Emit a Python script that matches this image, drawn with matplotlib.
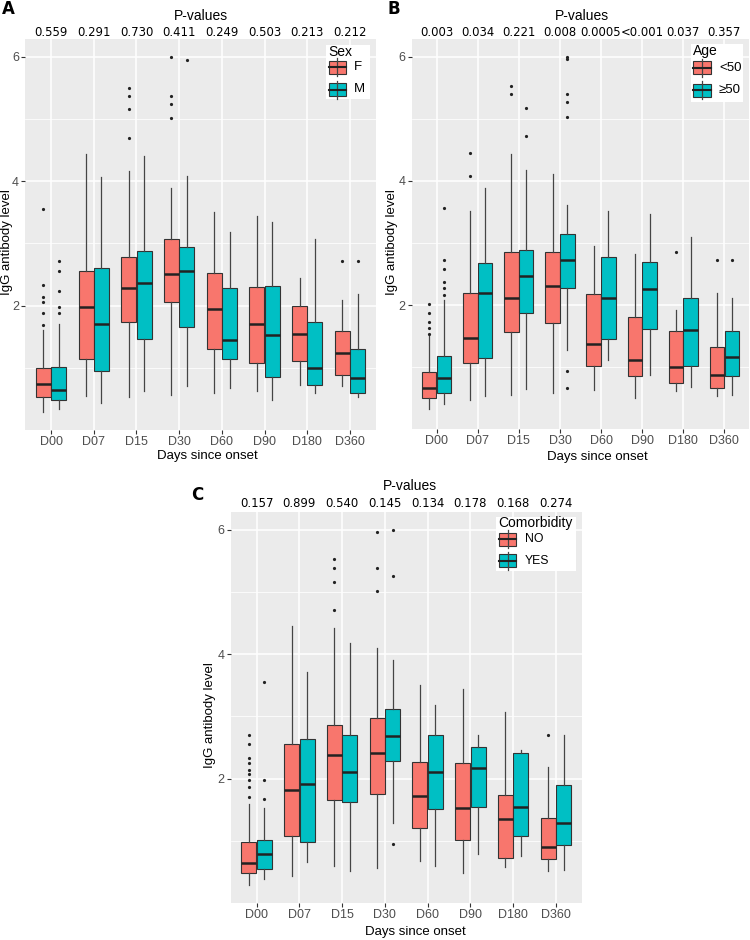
import matplotlib
matplotlib.use("Agg")
import matplotlib.pyplot as plt
from matplotlib.patches import Rectangle
from matplotlib.ticker import MultipleLocator

days = ["D00", "D07", "D15", "D30", "D60", "D90", "D180", "D360"]

# each row: (low whisker, q1, median, q3, high whisker)
# panel A - sex
pval_sex = ["0.559", "0.291", "0.730", "0.411", "0.249", "0.503", "0.213", "0.212"]
sex_f = [(0.29, 0.53, 0.74, 0.99, 1.61), (0.54, 1.14, 1.97, 2.55, 4.43),
         (0.53, 1.73, 2.29, 2.78, 4.16), (0.56, 2.05, 2.51, 3.07, 3.89),
         (0.60, 1.30, 1.95, 2.53, 3.50), (0.62, 1.08, 1.70, 2.30, 3.44),
         (0.72, 1.11, 1.55, 1.99, 2.45), (0.70, 0.88, 1.24, 1.59, 2.09)]
sex_f_out = [[3.55, 2.33, 2.14, 2.05, 1.88, 1.69], [], [5.50, 5.37, 5.16, 4.70],
             [5.99, 5.37, 5.24, 5.01], [], [], [], [2.71]]
sex_m = [(0.33, 0.49, 0.65, 1.01, 1.71), (0.44, 0.95, 1.71, 2.60, 4.06),
         (0.62, 1.46, 2.37, 2.87, 4.41), (0.70, 1.66, 2.55, 2.94, 4.09),
         (0.68, 1.14, 1.45, 2.29, 3.18), (0.49, 0.85, 1.53, 2.32, 3.34),
         (0.60, 0.72, 1.00, 1.74, 3.07), (0.53, 0.59, 0.83, 1.31, 2.18)]
sex_m_out = [[2.71, 2.56, 2.24, 1.98, 1.88], [], [], [5.95], [], [], [], [2.71]]

# panel B - age
pval_age = ["0.003", "0.034", "0.221", "0.008", "0.0005", "<0.001", "0.037", "0.357"]
age_lt = [(0.32, 0.51, 0.66, 0.92, 1.51), (0.47, 1.06, 1.47, 2.20, 3.52),
          (0.55, 1.57, 2.11, 2.85, 4.43), (0.59, 1.71, 2.31, 2.86, 4.11),
          (0.63, 1.02, 1.37, 2.17, 2.95), (0.51, 0.86, 1.11, 1.81, 2.82),
          (0.62, 0.74, 1.00, 1.58, 1.92), (0.54, 0.67, 0.88, 1.32, 2.20)]
age_lt_out = [[2.01, 1.87, 1.73, 1.63, 1.54], [4.45, 4.08], [5.53, 5.40], [], [], [],
              [2.85], [2.72]]
age_ge = [(0.41, 0.58, 0.82, 1.18, 2.08), (0.53, 1.14, 2.20, 2.67, 3.88),
          (0.64, 1.87, 2.47, 2.88, 4.18), (1.27, 2.28, 2.72, 3.15, 3.61),
          (1.12, 1.46, 2.11, 2.78, 3.52), (0.87, 1.62, 2.26, 2.69, 3.46),
          (0.68, 1.02, 1.60, 2.11, 3.09), (0.55, 0.86, 1.17, 1.58, 2.11)]
age_ge_out = [[3.57, 2.73, 2.58, 2.37, 2.28, 2.16], [], [5.18, 4.72],
              [6.00, 5.96, 5.39, 5.27, 5.03, 0.93, 0.67], [], [], [], [2.72]]

# panel C - comorbidity
pval_com = ["0.157", "0.899", "0.540", "0.145", "0.134", "0.178", "0.168", "0.274"]
com_no = [(0.29, 0.49, 0.65, 0.98, 1.60), (0.43, 1.08, 1.81, 2.55, 4.46),
          (0.60, 1.65, 2.38, 2.87, 4.43), (0.56, 1.75, 2.41, 2.98, 4.10),
          (0.68, 1.20, 1.72, 2.26, 3.50), (0.49, 1.02, 1.53, 2.25, 3.44),
          (0.58, 0.73, 1.35, 1.73, 3.07), (0.52, 0.71, 0.90, 1.36, 2.19)]
com_no_out = [[2.71, 2.56, 2.34, 2.25, 2.14, 2.08, 1.98, 1.87, 1.71], [],
              [5.53, 5.39, 5.17, 4.71], [5.97, 5.39, 5.02], [], [], [], [2.71]]
com_yes = [(0.38, 0.55, 0.79, 1.01, 1.53), (0.66, 0.98, 1.91, 2.63, 3.71),
           (0.52, 1.62, 2.11, 2.70, 4.19), (1.29, 2.29, 2.68, 3.12, 3.91),
           (0.60, 1.51, 2.11, 2.71, 3.18), (0.79, 1.54, 2.17, 2.51, 2.70),
           (0.76, 1.07, 1.54, 2.42, 2.46), (0.53, 0.94, 1.29, 1.89, 2.71)]
com_yes_out = [[3.56, 1.98, 1.68], [], [], [6.00, 5.26, 0.95], [], [], [], []]

RED = "#F8766D"
TEAL = "#00BFC4"
W, H = 750, 940
SANS = "Liberation Sans"
VERD = "DejaVu Sans"

fig = plt.figure(figsize=(W / 100, H / 100), dpi=100)


def make_stats(rows, outs):
    res = []
    for (lo, q1, med, q3, hi), fl in zip(rows, outs):
        res.append(dict(whislo=lo, q1=q1, med=med, q3=q3, whishi=hi, fliers=fl))
    return res


def panel(left, width, y0, unit, groups, pvals, pval_y):
    top = y0 - 6.29 * unit
    ax = fig.add_axes([left / W, 1 - y0 / H, width / W, (y0 - top) / H])
    ax.set_facecolor("#EBEBEB")
    for s in ax.spines.values():
        s.set_visible(False)
    ax.set_xlim(-0.6, 7.6)
    ax.set_ylim(0, 6.29)
    ax.yaxis.set_major_locator(MultipleLocator(2))
    ax.yaxis.set_minor_locator(MultipleLocator(1))
    ax.grid(which="major", color="white", lw=1.1)
    ax.grid(which="minor", axis="y", color="white", lw=0.55)
    ax.set_axisbelow(True)
    ax.tick_params(which="minor", length=0)
    ax.tick_params(which="major", length=3, width=0.8, color="#333333",
                   labelcolor="#4D4D4D", labelsize=9, pad=1.5)
    pos = list(range(len(days)))
    for k, (rows, outs, col) in enumerate(groups):
        off = -0.18 if k == 0 else 0.18
        ax.bxp(make_stats(rows, outs), positions=[p + off for p in pos],
               widths=0.35, patch_artist=True, showcaps=False,
               boxprops=dict(facecolor=col, edgecolor="#333333", lw=0.8),
               whiskerprops=dict(color="#444444", lw=0.9),
               medianprops=dict(color="#222222", lw=1.8),
               flierprops=dict(marker="o", markersize=2.3, markerfacecolor="#222222",
                               markeredgecolor="none"))
    ax.set_xticks(pos)
    ax.set_xticklabels(days, fontfamily=SANS)
    ax.set_yticks([2, 4, 6])
    ax.set_yticklabels(["2", "4", "6"], fontfamily=SANS)
    ax.set_xlim(-0.6, 7.6)
    for i, p in enumerate(pvals):
        ax.text(i, 1 + (top - pval_y) / (y0 - top), p, transform=ax.get_xaxis_transform(),
                ha="center", va="center", fontsize=8.4, family=VERD, color="black")
    return ax


panel(25.4, 350.2, 430, 62.2,
      [(sex_f, sex_f_out, RED), (sex_m, sex_m_out, TEAL)], pval_sex, 33)
panel(412, 337, 429.2, 62.1,
      [(age_lt, age_lt_out, RED), (age_ge, age_ge_out, TEAL)], pval_age, 33)
panel(231, 350.6, 903, 62.17,
      [(com_no, com_no_out, RED), (com_yes, com_yes_out, TEAL)], pval_com, 503)

# overlay in pixel coordinates for titles and legends
ov = fig.add_axes([0, 0, 1, 1], zorder=10)
ov.set_xlim(0, W)
ov.set_ylim(H, 0)
ov.axis("off")
ov.patch.set_visible(False)


def txt(x, y, s, **kw):
    kw.setdefault("family", SANS)
    kw.setdefault("fontsize", 9.5)
    kw.setdefault("ha", "center")
    kw.setdefault("va", "center")
    ov.text(x, y, s, **kw)


for letter, (lx, ly) in zip("ABC", [(8.5, 9), (394, 9.5), (197.5, 495)]):
    txt(lx, ly, letter, family=VERD, fontweight="bold", fontsize=12)

for (px, py) in [(201, 16), (581.7, 16), (410, 486)]:
    txt(px, py, "P-values", fontsize=10)

for (px, py) in [(207, 456), (597.5, 456.7), (415, 931.7)]:
    txt(px, py, "Days since onset")

for (px, py) in [(6.7, 241.7), (392.3, 242.3), (210, 715.3)]:
    txt(px, py, "IgG antibody level", rotation=90)


def legend(box, title, title_y, labels, key_x, key_ys, lab_x, lab_size):
    x0, x1, y0, y1 = box
    ov.add_patch(Rectangle((x0, y0), x1 - x0, y1 - y0, facecolor="white", edgecolor="none"))
    txt(x0 + 2, title_y, title, ha="left", fontsize=10)
    for lab, ky, col in zip(labels, key_ys, [RED, TEAL]):
        kx0, kx1 = key_x
        xm = (kx0 + kx1) / 2
        ov.plot([xm, xm], [ky - 9, ky + 9], color="#444444", lw=0.9)
        ov.add_patch(Rectangle((kx0, ky - 6.5), kx1 - kx0, 13, facecolor=col,
                               edgecolor="#333333", lw=0.8))
        ov.plot([kx0, kx1], [ky, ky], color="#222222", lw=1.5)
        txt(lab_x, ky, lab, ha="left", fontsize=lab_size)


legend((326, 370, 45, 99), "Sex", 51.7, ["F", "M"], (329, 345.7), [67, 89.5], 354, 9.5)
legend((690.7, 742.7, 44.3, 101.7), "Age", 50.7, ["<50", "≥50"], (693.3, 710.7),
       [67.7, 90], 719, 9.5)
legend((496, 576, 516.7, 571), "Comorbidity", 523.3, ["NO", "YES"], (499, 516),
       [539, 560.7], 525, 8.8)

fig.savefig("out.png", dpi=100)
